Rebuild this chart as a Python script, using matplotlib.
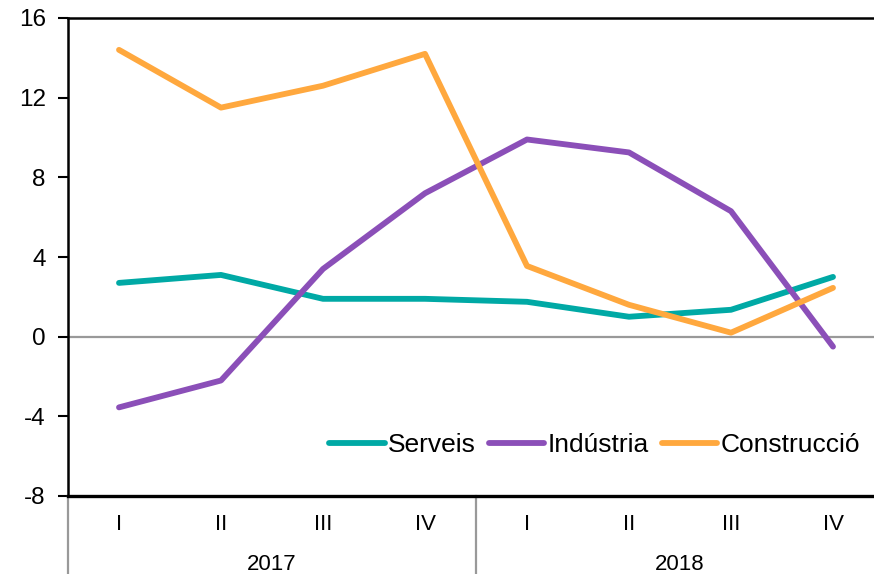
import matplotlib
matplotlib.use("Agg")
import matplotlib.pyplot as plt
from matplotlib.lines import Line2D
import matplotlib.transforms as mtransforms

plt.rcParams['font.family'] = ['Liberation Sans', 'DejaVu Sans']

quarters = ["I", "II", "III", "IV", "I", "II", "III", "IV"]
years = ["2017", "2018"]
serveis = [2.7, 3.1, 1.9, 1.9, 1.75, 1.0, 1.35, 3.0]
industria = [-3.55, -2.2, 3.4, 7.2, 9.9, 9.25, 6.3, -0.5]
construccio = [14.4, 11.5, 12.6, 14.2, 3.55, 1.6, 0.2, 2.45]
series_names = ["Serveis", "Indústria", "Construcció"]
colors = ["#00A9A5", "#8B4FB8", "#FFA83E"]

W, H = 874, 574
fig = plt.figure(figsize=(W / 100, H / 100), dpi=100)
left, right, top, bottom = 68 / W, 884 / W, 1 - 18 / H, 1 - 496 / H
ax = fig.add_axes([left, bottom, right - left, top - bottom])

x = list(range(len(quarters)))
for vals, name, c in zip([serveis, industria, construccio], series_names, colors):
    ax.plot(x, vals, color=c, lw=4.2, label=name, solid_capstyle='round',
            solid_joinstyle='round', zorder=3)

ax.axhline(0, color="#999999", lw=1.6, zorder=2)

ax.set_xlim(-0.5, 7.5)
ax.set_ylim(-8, 16)
ax.set_yticks([-8, -4, 0, 4, 8, 12, 16])
ax.set_yticklabels(["-8", "-4", "0", "4", "8", "12", "16"], fontsize=17.5)
ax.tick_params(axis='y', length=7, width=1.5, pad=9, direction='out')

ax.set_xticks(x)
ax.set_xticklabels(quarters, fontsize=16, family=['Liberation Sans Narrow', 'Liberation Sans'])
ax.tick_params(axis='x', length=0, pad=13)

for s in ['left', 'top']:
    ax.spines[s].set_linewidth(1.8)
ax.spines['bottom'].set_linewidth(2.4)
ax.spines['right'].set_visible(False)

trans = mtransforms.blended_transform_factory(ax.transData, ax.transAxes)
axh = (top - bottom) * H
for xb in [-0.5, 3.5, 7.5]:
    ax.add_line(Line2D([xb, xb], [0, -80 / axh], transform=trans, color="#999999",
                       lw=1.6, clip_on=False))
for i, yr in enumerate(years):
    ax.text(1.5 + 4 * i, -68 / axh, yr, transform=trans, ha='center', va='center',
            fontsize=16, family=['Liberation Sans Narrow', 'Liberation Sans'])

leg = ax.legend(loc='center right', bbox_to_anchor=(860 / W, 1 - 445 / H),
                bbox_transform=fig.transFigure, ncol=3, frameon=False, fontsize=19,
                handlelength=2.1, handletextpad=0.12, columnspacing=0.5,
                borderaxespad=0, borderpad=0)

fig.savefig("out.png", dpi=100)
